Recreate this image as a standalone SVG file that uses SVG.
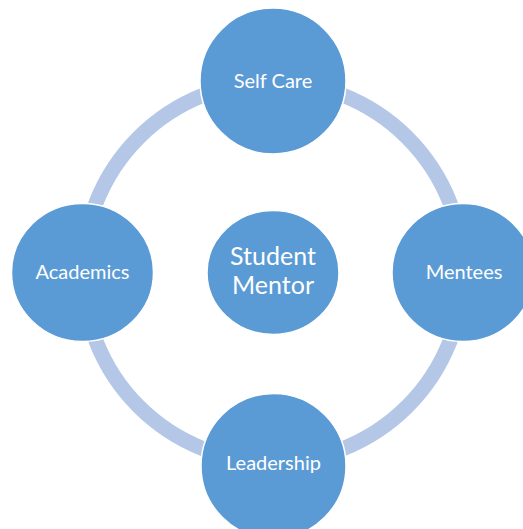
<svg xmlns="http://www.w3.org/2000/svg" width="523" height="529" viewBox="0 0 523 529">
<style>
.node{fill:#5b9bd5;stroke:#ffffff;stroke-width:1.5}
.lbl{fill:#ffffff;font-family:Lato,"Open Sans","Liberation Sans",sans-serif;text-anchor:middle}
.ring{fill:none;stroke:#b4c7e7;stroke-width:15}
</style>
<rect width="523" height="529" fill="#ffffff"/>
<g id="connectors">
<circle class="ring" cx="273" cy="272" r="190"/>
</g>
<g id="student-mentor">
<ellipse class="node" cx="273" cy="272.5" rx="66" ry="62"/>
<text class="lbl" x="273" y="265" font-size="25">Student</text>
<text class="lbl" x="273" y="294" font-size="25">Mentor</text>
</g>
<g id="self-care">
<circle class="node" cx="273" cy="81" r="73"/>
<text class="lbl" x="273" y="88" font-size="20">Self Care</text>
</g>
<g id="academics">
<ellipse class="node" cx="82.5" cy="272.5" rx="71" ry="69"/>
<text class="lbl" x="82.5" y="279" font-size="20">Academics</text>
</g>
<g id="mentees">
<ellipse class="node" cx="463" cy="272.5" rx="71" ry="69"/>
<text class="lbl" x="464" y="279" font-size="20">Mentees</text>
</g>
<g id="leadership">
<circle class="node" cx="273.5" cy="466" r="72.5"/>
<text class="lbl" x="273.5" y="470" font-size="20">Leadership</text>
</g>
</svg>
